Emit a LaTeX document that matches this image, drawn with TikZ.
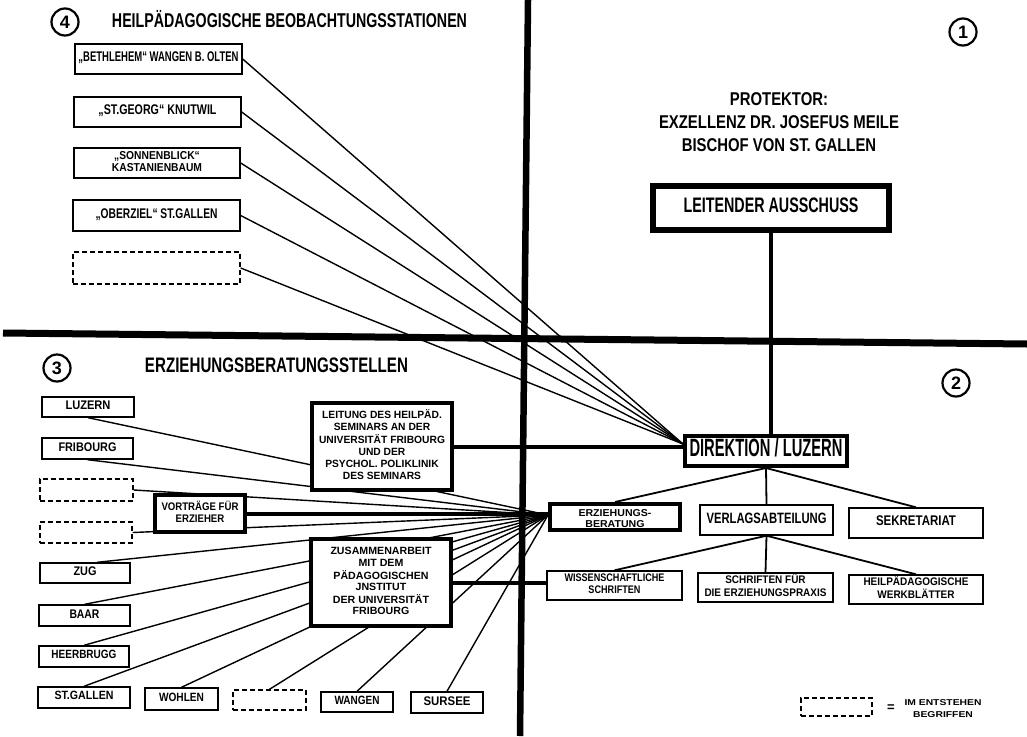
\documentclass[tikz,border=0pt]{standalone}
\usepackage{fontspec}
\setmainfont{Liberation Sans}
\usepackage{graphicx}
\usetikzlibrary{calc}
\pgfdeclarelayer{back}
\pgfdeclarelayer{bg}
\pgfsetlayers{back,bg,main}
\newcommand\tx[4]{\fontsize{#2}{#3}\selectfont\resizebox{#1pt}{\height}{\begin{tabular}{@{}c@{}}#4\end{tabular}}}
\begin{document}
\begin{tikzpicture}[x=1pt,y=-1pt,font=\bfseries,
  bx/.style={draw,line width=1.4,fill=white,inner sep=0,align=center},
  tbx/.style={bx,line width=4},
  dbx/.style={bx,dash pattern=on 5pt off 3pt},
  lbl/.style={inner sep=0},
  thinln/.style={line width=1.4},
  heavy/.style={line width=4},
  midln/.style={line width=1.8},
  circ/.style={circle,draw,line width=2.2,minimum size=27,inner sep=0,font=\bfseries\fontsize{18}{18}\selectfont}]
\useasboundingbox (0,0) rectangle (1027,736);
\begin{pgfonlayer}{back}
\fill[white] (0,0) rectangle (1027,736);
\end{pgfonlayer}

% ---------- section 4
\node[circ] (c4) at (65,22) {4};
\node[lbl] (t4) at (289.5,22) {\tx{355}{20}{20}{HEILPÄDAGOGISCHE BEOBACHTUNGSSTATIONEN}};
\node[bx,minimum width=167,minimum height=30] (s1) at (158.5,59) {\tx{160}{14}{14}{„BETHLEHEM“ WANGEN B. OLTEN}};
\node[bx,minimum width=167,minimum height=30] (s2) at (157.5,112) {\tx{118}{14}{14}{„ST.GEORG“ KNUTWIL}};
\node[bx,minimum width=166,minimum height=30] (s3) at (157,163) {\tx{90}{11.5}{11}{„SONNENBLICK“\\KASTANIENBAUM}};
\node[bx,minimum width=167,minimum height=31] (s4) at (156.5,215.5) {\tx{122}{14}{14}{„OBERZIEL“ ST.GALLEN}};
\node[dbx,minimum width=167,minimum height=32] (s5) at (156.5,268) {};

% ---------- section 1
\node[circ] (c1) at (963,32) {1};
\node[lbl] (prot) at (779,124) {\tx{240}{18.5}{22.5}{PROTEKTOR:\\EXZELLENZ DR. JOSEFUS MEILE\\BISCHOF VON ST. GALLEN}};
\node[bx,line width=6,minimum width=236,minimum height=44] (la) at (771,208) {\tx{175}{21}{21}{LEITENDER AUSSCHUSS}};

% ---------- section 2
\node[circ] (c2) at (956,383) {2};
\node[tbx,minimum width=162,minimum height=30] (dir) at (766,451) {\tx{153}{25}{25}{DIREKTION / LUZERN}};
\node[tbx,minimum width=130,minimum height=26] (erz) at (615,517) {\raisebox{-3pt}[\height][\depth]{\tx{73}{10}{11}{ERZIEHUNGS-\\BERATUNG}}};
\node[bx,minimum width=133,minimum height=30] (ver) at (766.5,520) {\tx{120}{15}{15}{VERLAGSABTEILUNG}};
\node[bx,minimum width=134,minimum height=30] (sek) at (916,523) {\tx{80}{14}{14}{SEKRETARIAT}};
\node[bx,minimum width=135,minimum height=29] (wis) at (614.5,585.5) {\tx{100}{11}{12}{WISSENSCHAFTLICHE\\SCHRIFTEN}};
\node[bx,minimum width=135,minimum height=29] (sch) at (765.5,587.5) {\tx{122}{11}{13}{SCHRIFTEN FÜR\\DIE ERZIEHUNGSPRAXIS}};
\node[bx,minimum width=134,minimum height=29] (hei) at (916,589.5) {\tx{105}{11}{13}{HEILPÄDAGOGISCHE\\WERKBLÄTTER}};

% ---------- section 3
\node[circ] (c3) at (57,368) {3};
\node[lbl] (t3) at (276.5,368) {\tx{263}{21}{21}{ERZIEHUNGSBERATUNGSSTELLEN}};
\node[bx,minimum width=92,minimum height=20] (luz) at (88,407) {\tx{45}{12.5}{12.5}{LUZERN}};
\node[bx,minimum width=91,minimum height=21] (fri) at (87.5,448.5) {\tx{58}{12.5}{12.5}{FRIBOURG}};
\node[dbx,minimum width=93,minimum height=22] (d1) at (86.5,490) {};
\node[dbx,minimum width=92,minimum height=21] (d2) at (86,532.5) {};
\node[bx,minimum width=90,minimum height=20] (zug) at (85,573) {\tx{23}{12.5}{12.5}{ZUG}};
\node[bx,minimum width=91,minimum height=21] (baar) at (84.5,615.5) {\tx{30}{12.5}{12.5}{BAAR}};
\node[bx,minimum width=90,minimum height=21] (heer) at (84,656.5) {\tx{65}{12}{12}{HEERBRUGG}};
\node[bx,minimum width=92,minimum height=21] (stg) at (84,697.5) {\tx{59}{12}{12}{ST.GALLEN}};
\node[bx,minimum width=73,minimum height=22] (woh) at (181.5,699) {\tx{45}{12}{12}{WOHLEN}};
\node[dbx,minimum width=73,minimum height=20] (d3) at (269.5,700) {};
\node[bx,minimum width=72,minimum height=20] (wan) at (357,702) {\tx{45}{12}{12}{WANGEN}};
\node[bx,minimum width=72,minimum height=21] (sur) at (447,702.5) {\tx{47}{12.5}{12.5}{SURSEE}};
\node[tbx,minimum width=90,minimum height=37] (vor) at (200,513.5) {\tx{77}{11}{11.5}{VORTRÄGE FÜR\\ERZIEHER}};
\node[tbx,minimum width=140,minimum height=87] (lei) at (382,446.5) {\tx{126}{10.5}{12}{LEITUNG DES HEILPÄD.\\SEMINARS AN DER\\UNIVERSITÄT FRIBOURG\\UND DER\\PSYCHOL. POLIKLINIK\\DES SEMINARS}};
\node[tbx,minimum width=140,minimum height=87] (zus) at (381,582.5) {\tx{101}{10.5}{11.6}{ZUSAMMENARBEIT\\MIT DEM\\PÄDAGOGISCHEN\\JNSTITUT\\DER UNIVERSITÄT\\FRIBOURG}};

% ---------- legend
\node[dbx,minimum width=71,minimum height=18] (leg) at (836.5,707) {};
\node[lbl] (eq) at (891,708) {\fontsize{13}{13}\selectfont =};
\node[lbl] (legt) at (943,709) {\tx{77}{8.5}{12}{IM ENTSTEHEN\\BEGRIFFEN}};

% ---------- focal points
\coordinate (F1) at ([yshift=7pt]dir.west);
\coordinate (F2) at ([yshift=2pt]erz.west);

\begin{pgfonlayer}{bg}
% quadrant cross
\coordinate (hl) at (3,333);
\coordinate (hr) at (1027,344);
\coordinate (vt) at (528,0);
\coordinate (vb) at (520,736);
\draw[line width=7] (hl) -- (hr);
\draw[line width=6.5] (vt) -- (vb);
% upper fan
\foreach \n in {s1,s2,s3,s4,s5} \draw[thinln] (\n.east) -- (F1);
% lower fan
\draw[thinln] (luz.south) -- (F2);
\draw[thinln] (fri.south) -- (F2);
\draw[thinln] (d1.east) -- (F2);
\draw[thinln] (d2.east) -- (F2);
\draw[thinln] ([xshift=12pt]zug.north) -- (F2);
\foreach \n in {baar,heer,stg,woh,d3,wan,sur} \draw[thinln] (\n.north) -- (F2);
% thick connectors
\draw[heavy] (lei.east) -- (lei.east -| dir.west);
\draw[heavy] (vor.east) -- (vor.east -| erz.west);
\draw[heavy] (zus.east) -- (zus.east -| wis.west);
\draw[line width=3.5] (la.south) -- (la.south |- dir.north);
% tree
\draw[midln] (dir.south) -- (erz.north);
\draw[midln] (dir.south) -- (ver.north);
\draw[midln] (dir.south) -- (sek.north);
\draw[midln] (ver.south) -- (wis.north);
\draw[midln] (ver.south) -- (sch.north);
\draw[midln] (ver.south) -- (hei.north);
\end{pgfonlayer}
\end{tikzpicture}
\end{document}
